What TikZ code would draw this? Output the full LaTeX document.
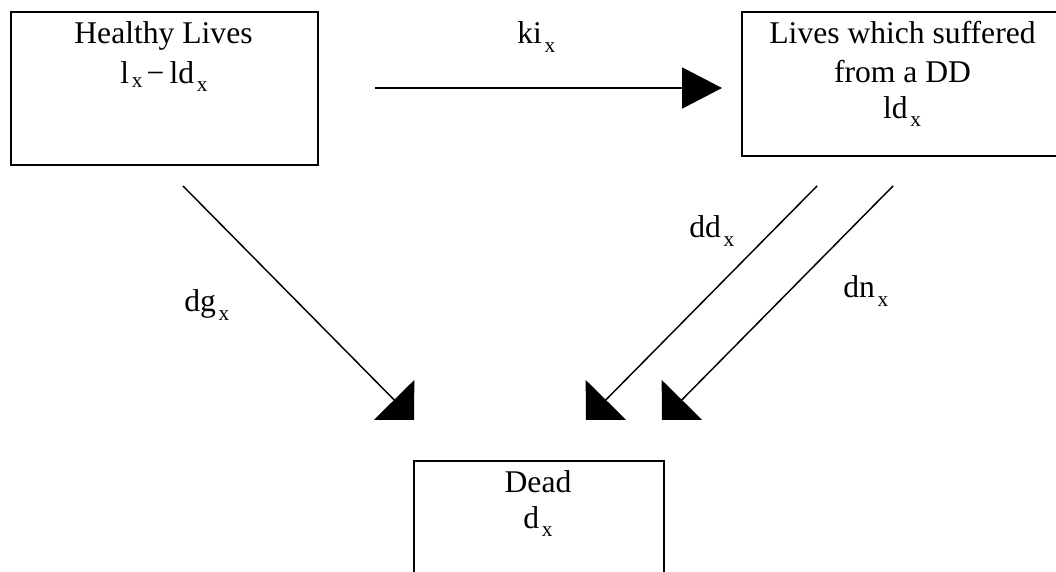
\documentclass[tikz,border=0pt]{standalone}
\usepackage{fontspec}
\setmainfont{Liberation Serif}
\usetikzlibrary{arrows.meta}

% lowered small "x" subscript; optional argument = drop below the baseline
\newcommand{\subx}[1][6pt]{\hspace{2pt}\raisebox{-#1}{\fontsize{16pt}{16pt}\selectfont x}}

\begin{document}
\begin{tikzpicture}[x=0.75pt,y=-0.75pt,
  statebox/.style={draw=black,line width=1.5pt,rectangle,anchor=north west,inner sep=0pt},
  boxtext/.style={anchor=base,inner sep=0pt,font=\fontsize{23.7pt}{28pt}\selectfont},
  ratetext/.style={anchor=base west,inner sep=0pt,font=\fontsize{23.7pt}{28pt}\selectfont},
  flow/.style={draw=black,line width=1.5pt,-{Triangle[length=30pt,width=30.75pt]}},
  death/.style={draw=black,line width=1.1pt,-{Triangle[length=21.2pt,width=42.4pt]}}]

  \clip (0,0) rectangle (1056,571);
  \fill[white] (0,0) rectangle (1056,571);

  % states
  \node[statebox,minimum width=230.25pt,minimum height=114.75pt] (healthy) at (10,11) {};
  \node[statebox,minimum width=246.75pt,minimum height=108pt] (sick) at (741,11) {};
  \node[statebox,minimum width=187.5pt,minimum height=112.5pt] (dead) at (413,460) {};

  % state labels
  \node[boxtext] (healthyA) at (163.5,43) {Healthy Lives};
  \node[boxtext] (healthyB) at (164,83) {l\subx[3.5pt]\hspace{3pt}−\hspace{4pt}ld\subx};
  \node[boxtext] (sickA) at (902.5,43) {Lives which suffered};
  \node[boxtext] (sickB) at (902.5,82) {from a DD};
  \node[boxtext] (sickC) at (902,118) {ld\subx};
  \node[boxtext] (deadA) at (538,492) {Dead};
  \node[boxtext] (deadB) at (538,528) {d\subx};

  % transition end points
  \coordinate (kiS) at (375,88);  \coordinate (kiE) at (722,88);
  \coordinate (dgS) at (183,186); \coordinate (dgE) at (414,420);
  \coordinate (ddS) at (817,186); \coordinate (ddE) at (586,420);
  \coordinate (dnS) at (893,186); \coordinate (dnE) at (662,420);

  % transitions
  \draw[flow] (kiS) -- (kiE);
  \draw[death] (dgS) -- (dgE);
  \draw[death] (ddS) -- (ddE);
  \draw[death] (dnS) -- (dnE);

  % transition rates
  \node[ratetext] (ki) at (517,43) {ki\subx[7pt]};
  \node[ratetext] (dg) at (184,311) {dg\subx[7pt]};
  \node[ratetext] (dd) at (689,237) {dd\subx[7pt]};
  \node[ratetext] (dn) at (843,297) {dn\subx[7pt]};
\end{tikzpicture}
\end{document}
